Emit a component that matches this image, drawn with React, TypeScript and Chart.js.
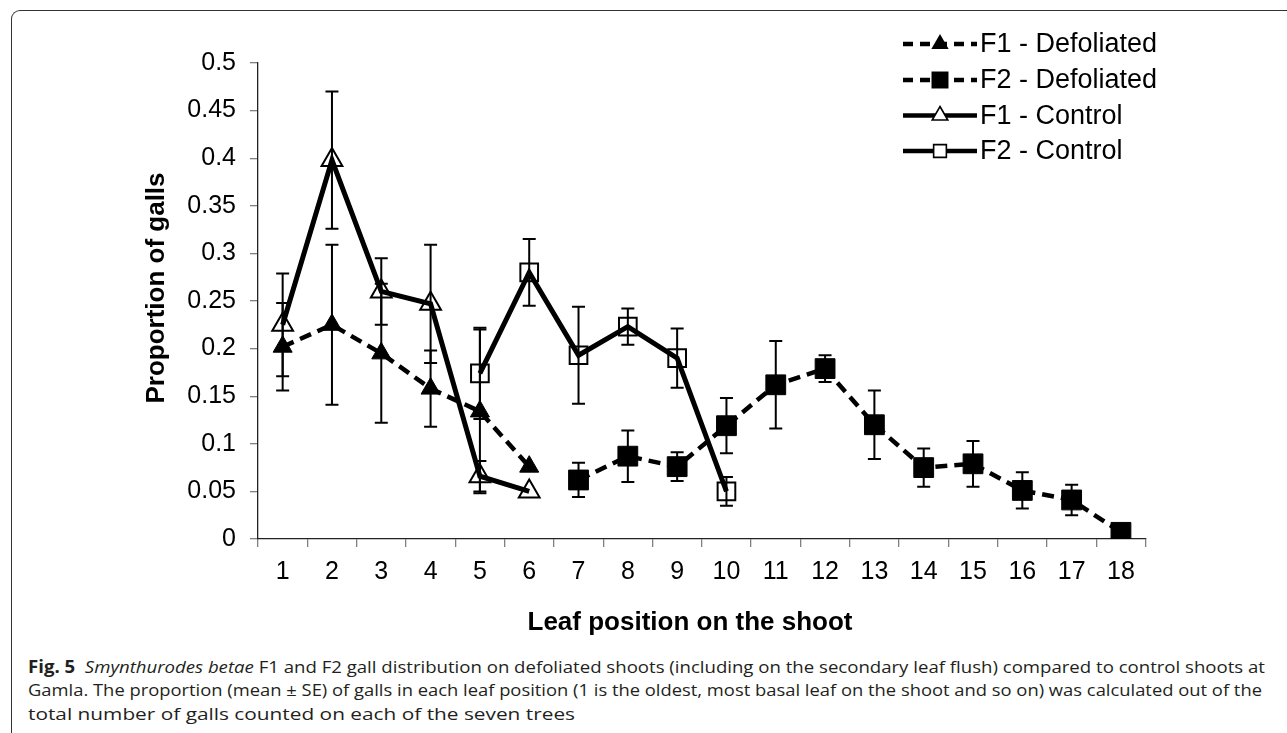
import React, { useEffect, useLayoutEffect, useRef } from 'react';
import { Chart, registerables } from 'chart.js';

Chart.register(...registerables);

// ---------- data ----------
const categories = ['1', '2', '3', '4', '5', '6', '7', '8', '9', '10', '11', '12', '13', '14', '15', '16', '17', '18'];

const f1DefStart = 1;
const f1DefMean = [0.202, 0.225, 0.195, 0.158, 0.134, 0.076];
const f1DefSE = [0.046, 0.084, 0.073, 0.04, 0.086, 0];

const f2DefStart = 7;
const f2DefMean = [0.062, 0.087, 0.076, 0.119, 0.162, 0.179, 0.12, 0.075, 0.079, 0.051, 0.041, 0.007];
const f2DefSE = [0.018, 0.027, 0.015, 0.029, 0.046, 0.014, 0.036, 0.02, 0.024, 0.019, 0.016, 0];

const f1CtrlStart = 1;
const f1CtrlMean = [0.225, 0.398, 0.26, 0.247, 0.066, 0.05];
const f1CtrlSE = [0.054, 0.072, 0.035, 0.062, 0.016, 0];

const f2CtrlStart = 5;
const f2CtrlMean = [0.174, 0.28, 0.193, 0.223, 0.19, 0.05];
const f2CtrlSE = [0.048, 0.035, 0.051, 0.019, 0.031, 0.015];

const seriesNames = ['F1 - Defoliated', 'F2 - Defoliated', 'F1 - Control', 'F2 - Control'];
const yTitle = 'Proportion of galls';
const xTitle = 'Leaf position on the shoot';

const FONT = '"Liberation Sans", Arial, Helvetica, sans-serif';

function place(start: number, vals: number[]): (number | null)[] {
  const arr: (number | null)[] = categories.map(() => null);
  vals.forEach((v, i) => { arr[start - 1 + i] = v; });
  return arr;
}

const seByDataset = [
  place(f1DefStart, f1DefSE),
  place(f2DefStart, f2DefSE),
  place(f1CtrlStart, f1CtrlSE),
  place(f2CtrlStart, f2CtrlSE),
];

function drawMarker(ctx: CanvasRenderingContext2D, style: string, x: number, y: number, r: number, filled: boolean) {
  ctx.save();
  ctx.setLineDash([]);
  ctx.beginPath();
  if (style === 'triangle') {
    ctx.moveTo(x, y - r);
    ctx.lineTo(x + r * 0.866, y + r * 0.5);
    ctx.lineTo(x - r * 0.866, y + r * 0.5);
    ctx.closePath();
  } else {
    const s = r * Math.SQRT1_2;
    ctx.rect(x - s, y - s, 2 * s, 2 * s);
  }
  if (filled) {
    ctx.fillStyle = '#000';
    ctx.fill();
  } else {
    ctx.fillStyle = '#fff';
    ctx.fill();
    ctx.lineWidth = 1.6;
    ctx.strokeStyle = '#000';
    ctx.stroke();
  }
  ctx.restore();
}

const errorBarPlugin = {
  id: 'errorBars',
  afterDatasetsDraw(chart: any) {
    const ctx = chart.ctx;
    const yScale = chart.scales.y;
    ctx.save();
    ctx.strokeStyle = '#000';
    ctx.lineWidth = 2;
    ctx.setLineDash([]);
    chart.data.datasets.forEach((ds: any, di: number) => {
      const meta = chart.getDatasetMeta(di);
      const ses = seByDataset[di];
      meta.data.forEach((el: any, i: number) => {
        const v = ds.data[i];
        const se = ses[i];
        if (v == null || se == null || se === 0) return;
        const x = el.x;
        const yTop = yScale.getPixelForValue(v + se);
        const yBot = yScale.getPixelForValue(v - se);
        const cap = 6.5;
        ctx.beginPath();
        ctx.moveTo(x, yTop);
        ctx.lineTo(x, yBot);
        ctx.moveTo(x - cap, yTop);
        ctx.lineTo(x + cap, yTop);
        ctx.moveTo(x - cap, yBot);
        ctx.lineTo(x + cap, yBot);
        ctx.stroke();
      });
    });
    ctx.restore();
  },
};

const decorPlugin = {
  id: 'decor',
  afterDraw(chart: any) {
    const ctx = chart.ctx;
    ctx.save();
    // axis titles
    ctx.fillStyle = '#000';
    ctx.font = `bold 26px ${FONT}`;
    ctx.textAlign = 'center';
    ctx.textBaseline = 'middle';
    ctx.fillText(xTitle, 690, 623);
    ctx.save();
    ctx.translate(157, 288);
    ctx.rotate(-Math.PI / 2);
    ctx.fillText(yTitle, 0, 0);
    ctx.restore();

    // legend
    const rows = [44, 80, 115.5, 151];
    const styles = [
      { dashed: true, marker: 'triangle', filled: true, r: 10 },
      { dashed: true, marker: 'rect', filled: true, r: 12 },
      { dashed: false, marker: 'triangle', filled: false, r: 9 },
      { dashed: false, marker: 'rect', filled: false, r: 9 },
    ];
    rows.forEach((y, i) => {
      const st = styles[i];
      ctx.save();
      ctx.strokeStyle = '#000';
      ctx.lineWidth = 4.5;
      ctx.setLineDash(st.dashed ? [10, 7] : []);
      ctx.beginPath();
      ctx.moveTo(903, y);
      ctx.lineTo(977, y);
      ctx.stroke();
      ctx.restore();
      drawMarker(ctx, st.marker, 940, y, st.r, st.filled);
      ctx.fillStyle = '#000';
      ctx.font = `27px ${FONT}`;
      ctx.textAlign = 'left';
      ctx.textBaseline = 'middle';
      ctx.fillText(seriesNames[i], 980, y + 1);
    });
    ctx.restore();
  },
};

const captionTargets = [1237, 1234, 547];

export default function App() {
  const canvasRef = useRef<HTMLCanvasElement | null>(null);
  const spanRefs = useRef<(HTMLSpanElement | null)[]>([]);

  useLayoutEffect(() => {
    spanRefs.current.forEach((el, i) => {
      if (!el) return;
      el.style.transform = 'none';
      const w = el.getBoundingClientRect().width;
      if (w > 0) el.style.transform = `scaleX(${captionTargets[i] / w})`;
    });
  }, []);

  useEffect(() => {
    const canvas = canvasRef.current;
    if (!canvas) return;
    const chart = new Chart(canvas, {
      type: 'line',
      data: {
        labels: categories,
        datasets: [
          {
            label: seriesNames[0],
            data: place(f1DefStart, f1DefMean),
            borderColor: '#000',
            borderWidth: 4.5,
            borderDash: [12, 7],
            pointStyle: 'triangle',
            pointRadius: 11,
            pointBackgroundColor: '#000',
            pointBorderColor: '#000',
            pointBorderWidth: 1,
            spanGaps: false,
          },
          {
            label: seriesNames[1],
            data: place(f2DefStart, f2DefMean),
            borderColor: '#000',
            borderWidth: 4.5,
            borderDash: [12, 7],
            pointStyle: 'rect',
            pointRadius: 14,
            pointBackgroundColor: '#000',
            pointBorderColor: '#000',
            pointBorderWidth: 1,
            spanGaps: false,
          },
          {
            label: seriesNames[2],
            data: place(f1CtrlStart, f1CtrlMean),
            borderColor: '#000',
            borderWidth: 5,
            pointStyle: 'triangle',
            pointRadius: 12,
            pointBackgroundColor: 'rgba(255,255,255,0)',
            pointBorderColor: '#000',
            pointBorderWidth: 2,
            spanGaps: false,
          },
          {
            label: seriesNames[3],
            data: place(f2CtrlStart, f2CtrlMean),
            borderColor: '#000',
            borderWidth: 5,
            pointStyle: 'rect',
            pointRadius: 12.5,
            pointBackgroundColor: 'rgba(255,255,255,0)',
            pointBorderColor: '#000',
            pointBorderWidth: 2,
            spanGaps: false,
          },
        ],
      },
      options: {
        responsive: false,
        animation: false,
        layout: { padding: { top: 63, right: 141.4, left: 0, bottom: 0 } },
        plugins: {
          legend: { display: false },
          tooltip: { enabled: false },
          title: { display: false },
        },
        scales: {
          x: {
            type: 'category',
            offset: true,
            grid: { offset: true, drawOnChartArea: false, tickLength: 8, color: '#808080', lineWidth: 1.3 },
            border: { color: '#222', width: 1.3 },
            ticks: { font: { size: 25, family: FONT }, color: '#000', padding: 10, maxRotation: 0, autoSkip: false },
            afterFit: (s: any) => { s.height = 111; },
          },
          y: {
            min: 0,
            max: 0.5,
            grid: { drawOnChartArea: false, tickLength: 8, color: '#808080', lineWidth: 1.3 },
            border: { color: '#222', width: 1.3 },
            ticks: {
              stepSize: 0.05,
              font: { size: 25, family: FONT },
              color: '#000',
              padding: 14,
              callback: (v: any) => String(Number(Number(v).toFixed(2))),
            },
            afterFit: (s: any) => { s.width = 258; },
          },
        },
      } as any,
      plugins: [errorBarPlugin, decorPlugin],
    });
    return () => chart.destroy();
  }, []);

  const captionFont = '"Open Sans", "Noto Sans", sans-serif';
  const lineStyle: React.CSSProperties = {
    position: 'absolute',
    left: 28,
    height: 24,
    lineHeight: '24px',
    fontSize: 17,
    fontFamily: captionFont,
    color: '#231f20',
    whiteSpace: 'nowrap',
  };
  const spanStyle: React.CSSProperties = { display: 'inline-block', transformOrigin: '0 50%', whiteSpace: 'nowrap' };

  return (
    <div style={{ position: 'relative', width: 1287, height: 733, overflow: 'hidden', background: '#fff' }}>
      <style>{`body{margin:0;}`}</style>
      <div
        style={{
          position: 'absolute',
          left: 11,
          top: 10,
          width: 1400,
          height: 800,
          borderTop: '1.3px solid #333',
          borderLeft: '1.3px solid #333',
          borderTopLeftRadius: 9,
        }}
      />
      <canvas ref={canvasRef} width={1287} height={650} style={{ position: 'absolute', left: 0, top: 0, width: 1287, height: 650 }} />
      <div style={{ ...lineStyle, top: 655 }}>
        <span ref={(el) => { spanRefs.current[0] = el; }} style={spanStyle}>
          <b>Fig. 5</b>&nbsp; <i>Smynthurodes betae</i> F1 and F2 gall distribution on defoliated shoots (including on the secondary leaf flush) compared to control shoots at
        </span>
      </div>
      <div style={{ ...lineStyle, top: 678 }}>
        <span ref={(el) => { spanRefs.current[1] = el; }} style={spanStyle}>
          Gamla. The proportion (mean ± SE) of galls in each leaf position (1 is the oldest, most basal leaf on the shoot and so on) was calculated out of the
        </span>
      </div>
      <div style={{ ...lineStyle, top: 702 }}>
        <span ref={(el) => { spanRefs.current[2] = el; }} style={spanStyle}>
          total number of galls counted on each of the seven trees
        </span>
      </div>
    </div>
  );
}
